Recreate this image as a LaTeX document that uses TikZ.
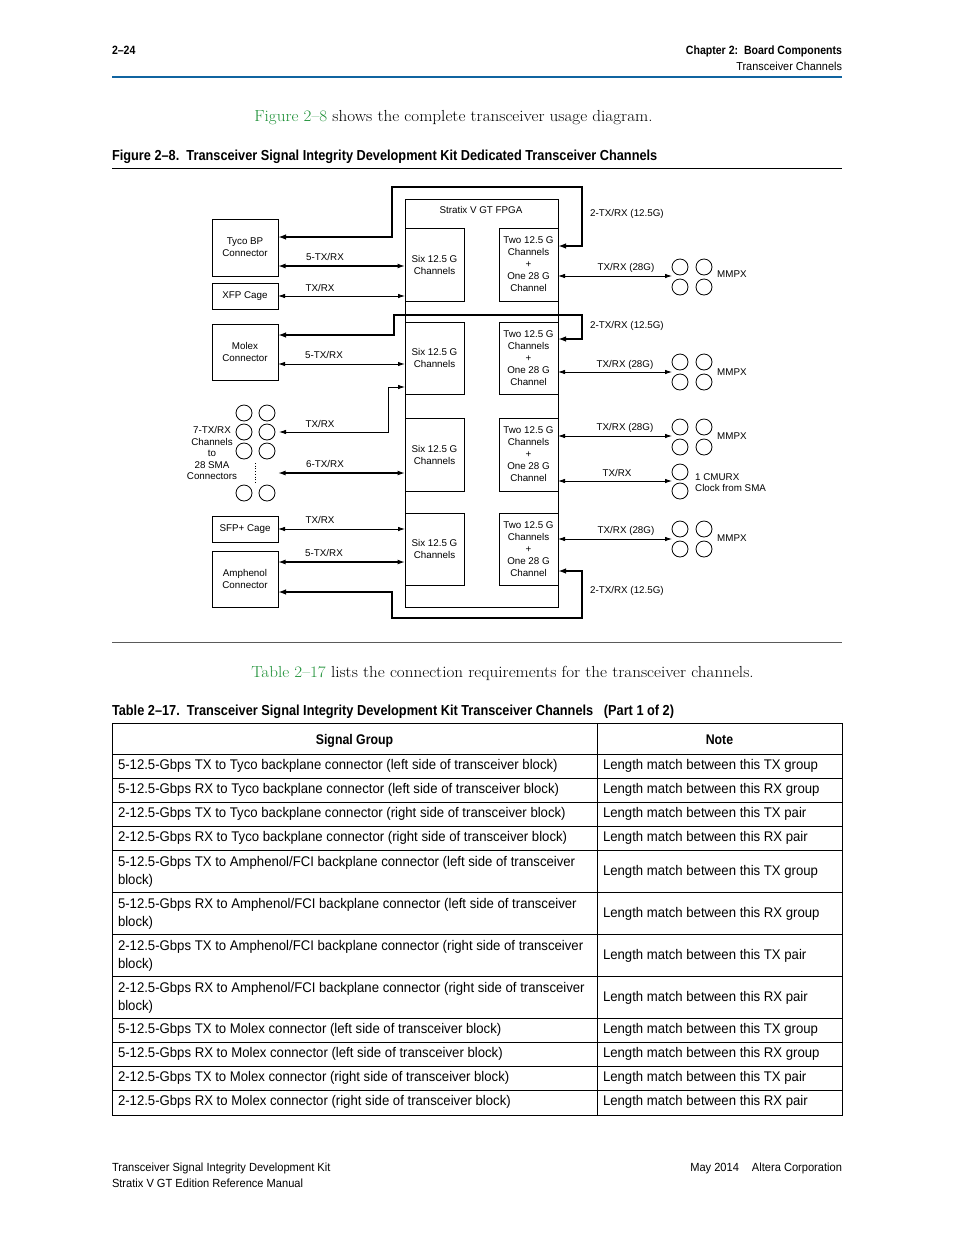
\documentclass[tikz,border=0pt]{standalone}
\usepackage{fontspec}
\usetikzlibrary{arrows.meta}
\newfontfamily\cond[FakeStretch=0.94]{Liberation Sans}
\newfontfamily\condb[FakeStretch=0.88]{Liberation Sans}
\newfontfamily\arial{Liberation Sans}
\newfontfamily\widerm[FakeStretch=1.07]{Latin Modern Roman}
\definecolor{hdrblue}{RGB}{16,100,160}
\definecolor{linkgreen}{RGB}{30,145,55}
\definecolor{rulegray}{RGB}{90,90,90}
\newcommand\hdrb{\condb\bfseries\fontsize{12}{14}\selectfont}
\newcommand\hdrr{\cond\fontsize{11.6}{14}\selectfont}
\newcommand\headb{\condb\bfseries\fontsize{14.5}{17}\selectfont}
\newcommand\tabr{\cond\fontsize{14}{17}\selectfont}
\newcommand\tabb{\condb\bfseries\fontsize{14}{17}\selectfont}
\newcommand\footr{\cond\fontsize{11.8}{14}\selectfont}
\newcommand\serifsz{\widerm\fontsize{16}{19}\selectfont}
\newcommand\diagfont{\arial\fontsize{9.8}{12}\selectfont}
\tikzset{
 box/.style={draw, line width=0.9pt, inner sep=0pt, outer sep=0pt, align=center, font=\diagfont, anchor=north west},
 lbl/.style={inner sep=0pt, font=\diagfont},
 circ/.style={circle, draw, line width=0.8pt, minimum size=16pt, inner sep=0pt, outer sep=0pt},
 thinarr/.style={line width=0.8pt, {Latex[length=7pt,width=4.5pt]}-{Latex[length=7pt,width=4.5pt]}},
 medarr/.style={line width=1.4pt, {Latex[length=7.5pt,width=5pt]}-{Latex[length=7.5pt,width=5pt]}},
 thickarr/.style={line width=2.2pt, line join=miter, {Latex[length=8pt,width=5.5pt]}-{Latex[length=8pt,width=5.5pt]}},
 ptxt/.style={inner sep=0pt, outer sep=0pt},
 tcell/.style={inner sep=0pt, outer sep=0pt, anchor=base west, font=\tabr},
}
\begin{document}
\begin{tikzpicture}[x=1pt,y=-1pt]
\useasboundingbox (0,0) rectangle (954,1235);
\fill[white] (0,0) rectangle (954,1235);

% ---------- page header ----------
\node[ptxt, anchor=base west, font=\hdrb] (pnum) at (112,54.5) {2–24};
\node[ptxt, anchor=base east, font=\hdrb] (chap) at (842,54.5) {Chapter 2:\ \ Board Components};
\node[ptxt, anchor=base east, font=\hdrr] (sect) at (842,70.5) {Transceiver Channels};
\draw[hdrblue, line width=2.2pt] (112,77) -- (842,77);

\node[ptxt, anchor=base, font=\serifsz] (intro) at (453.5,121.5) {\textcolor{linkgreen}{Figure 2–8} shows the complete transceiver usage diagram.};
\node[ptxt, anchor=base west, font=\headb] (figcap) at (112,160) {Figure 2–8.\ \ Transceiver Signal Integrity Development Kit Dedicated Transceiver Channels};
\draw[line width=0.9pt] (112,168) -- (842,168);

% ---------- diagram boxes ----------
\node[box, minimum width=153pt, minimum height=408pt] (fpga) at (405,199) {};
\node[lbl] (fpgat) at (481,210) {Stratix V GT FPGA};

\node[box, minimum width=59pt, minimum height=73pt] (six1) at (405,228) {Six 12.5 G\\Channels};
\node[box, minimum width=59pt, minimum height=73pt] (tw1) at (499,228) {Two 12.5 G\\Channels\\+\\One 28 G\\Channel};
\node[box, minimum width=59pt, minimum height=72pt] (six2) at (405,322) {Six 12.5 G\\Channels};
\node[box, minimum width=59pt, minimum height=72pt] (tw2) at (499,322) {Two 12.5 G\\Channels\\+\\One 28 G\\Channel};
\node[box, minimum width=59pt, minimum height=73pt] (six3) at (405,418) {Six 12.5 G\\Channels};
\node[box, minimum width=59pt, minimum height=73pt] (tw3) at (499,418) {Two 12.5 G\\Channels\\+\\One 28 G\\Channel};
\node[box, minimum width=59pt, minimum height=72pt] (six4) at (405,513) {Six 12.5 G\\Channels};
\node[box, minimum width=59pt, minimum height=72pt] (tw4) at (499,513) {Two 12.5 G\\Channels\\+\\One 28 G\\Channel};

\node[box, minimum width=66pt, minimum height=57pt] (tyco) at (212,219) {Tyco BP\\Connector};
\node[box, minimum width=66pt, minimum height=26pt] (xfp) at (212,283) {XFP Cage};
\node[box, minimum width=66pt, minimum height=56pt] (molex) at (212,324) {Molex\\Connector};
\node[box, minimum width=66pt, minimum height=26pt] (sfp) at (212,516) {SFP+ Cage};
\node[box, minimum width=66pt, minimum height=56pt] (amph) at (212,551) {Amphenol\\Connector};

% SMA circles
\node[circ] (s1a) at (244,413) {};
\node[circ] (s1b) at (267,413) {};
\node[circ] (s2a) at (244,432) {};
\node[circ] (s2b) at (267,432) {};
\node[circ] (s3a) at (244,451) {};
\node[circ] (s3b) at (267,451) {};
\node[circ] (s4a) at (244,493) {};
\node[circ] (s4b) at (267,493) {};
\draw[dotted, line width=0.7pt] (255,463) -- (255,484);
\node[lbl, align=center, font=\arial\fontsize{9.8}{11.5}\selectfont] (smalbl) at (212,453) {7-TX/RX\\Channels\\to\\28 SMA\\Connectors};

% MMPX circles
\node[circ] (m1a) at (680,267) {};
\node[circ] (m1b) at (704,267) {};
\node[circ] (m1c) at (680,287) {};
\node[circ] (m1d) at (704,287) {};
\node[circ] (m2a) at (680,362) {};
\node[circ] (m2b) at (704,362) {};
\node[circ] (m2c) at (680,382) {};
\node[circ] (m2d) at (704,382) {};
\node[circ] (m3a) at (680,427) {};
\node[circ] (m3b) at (704,427) {};
\node[circ] (m3c) at (680,447) {};
\node[circ] (m3d) at (704,447) {};
\node[circ] (c1) at (680,472) {};
\node[circ] (c2) at (680,491) {};
\node[circ] (m4a) at (680,529) {};
\node[circ] (m4b) at (704,529) {};
\node[circ] (m4c) at (680,549) {};
\node[circ] (m4d) at (704,549) {};

\node[lbl, anchor=west] (mm1) at (717,274) {MMPX};
\node[lbl, anchor=west] (mm2) at (717,372) {MMPX};
\node[lbl, anchor=west] (mm3) at (717,436) {MMPX};
\node[lbl, anchor=west] (mm4) at (717,538) {MMPX};
\node[lbl, anchor=west] (cmu1) at (695,477) {1 CMURX};
\node[lbl, anchor=west] (cmu2) at (695,488) {Clock from SMA};

% ---------- connectors ----------
\draw[thickarr] (tw1.east |- 0,246) -| (582,187) -| (392,237) -- (tyco.east |- 0,237);
\draw[thickarr] (tw2.east |- 0,339) -| (582,315) -| (394,335) -- (molex.east |- 0,335);
\draw[thickarr] (tw4.east |- 0,571) -| (582,618) -| (392,592) -- (amph.east |- 0,592);

\draw[medarr] (tyco.east |- 0,266) -- (six1.west |- 0,266);
\draw[thinarr] (xfp.east |- 0,296) -- (six1.west |- 0,296);
\draw[thinarr, line width=1pt] (molex.east |- 0,364) -- (six2.west |- 0,364);
\draw[thinarr] ([xshift=4pt]s2b.east) -| (388,387) -- (fpga.west |- 0,387);
\coordinate (sma6) at (278,473);
\draw[medarr] (sma6) -- (six3.west |- sma6);
\draw[thinarr] (sfp.east |- 0,529) -- (six4.west |- 0,529);
\draw[medarr] (amph.east |- 0,562) -- (six4.west |- 0,562);

\draw[thinarr] (tw1.east |- 0,276) -- (m1a.west |- 0,276);
\draw[thinarr] (tw2.east |- 0,372) -- (m2a.west |- 0,372);
\draw[thinarr] (tw3.east |- 0,436) -- (m3a.west |- 0,436);
\draw[thinarr] (tw3.east |- 0,481) -- (c1.west |- 0,481);
\draw[thinarr] (tw4.east |- 0,539) -- (m4a.west |- 0,539);

% connector labels
\node[lbl] (l1) at (325,257) {5-TX/RX};
\node[lbl] (l2) at (320,288) {TX/RX};
\node[lbl] (l3) at (324,355) {5-TX/RX};
\node[lbl] (l4) at (320,424) {TX/RX};
\node[lbl] (l5) at (325,464) {6-TX/RX};
\node[lbl] (l6) at (320,520) {TX/RX};
\node[lbl] (l7) at (324,553) {5-TX/RX};
\node[lbl, anchor=west] (r1) at (590,214) {2-TX/RX (12.5G)};
\node[lbl] (r2) at (626,268) {TX/RX (28G)};
\node[lbl, anchor=west] (r3) at (590,326) {2-TX/RX (12.5G)};
\node[lbl] (r4) at (625,365) {TX/RX (28G)};
\node[lbl] (r5) at (625,428) {TX/RX (28G)};
\node[lbl] (r6) at (617,473) {TX/RX};
\node[lbl] (r7) at (626,531) {TX/RX (28G)};
\node[lbl, anchor=west] (r8) at (590,591) {2-TX/RX (12.5G)};

% ---------- after figure ----------
\draw[line width=0.7pt, rulegray] (112,642) -- (842,642);
\node[ptxt, anchor=base, font=\serifsz] (tabintro) at (502.5,677) {\textcolor{linkgreen}{Table 2–17} lists the connection requirements for the transceiver channels.};
\node[ptxt, anchor=base west, font=\headb] (tabcap) at (112,715) {Table 2–17.\ \ Transceiver Signal Integrity Development Kit Transceiver Channels\ \ \ (Part 1 of 2)};

% table
\draw[line width=0.8pt] (112,723) rectangle (842,1115);
\draw[line width=0.8pt] (597,723) -- (597,1115);
\foreach \yy in {754,778,802,826,850,892,934,976,1018,1042,1066,1090}
  \draw[line width=0.8pt] (112,\yy) -- (842,\yy);

\node[ptxt, anchor=base, font=\tabb] (thsg) at (354.5,744) {Signal Group};
\node[ptxt, anchor=base, font=\tabb] (thn) at (719.5,744) {Note};

\node[tcell] (a1) at (118,769.5) {5-12.5-Gbps TX to Tyco backplane connector (left side of transceiver block)};
\node[tcell] (b1) at (603,769.5) {Length match between this TX group};
\node[tcell] (a2) at (118,793.5) {5-12.5-Gbps RX to Tyco backplane connector (left side of transceiver block)};
\node[tcell] (b2) at (603,793.5) {Length match between this RX group};
\node[tcell] (a3) at (118,817.5) {2-12.5-Gbps TX to Tyco backplane connector (right side of transceiver block)};
\node[tcell] (b3) at (603,817.5) {Length match between this TX pair};
\node[tcell] (a4) at (118,841.5) {2-12.5-Gbps RX to Tyco backplane connector (right side of transceiver block)};
\node[tcell] (b4) at (603,841.5) {Length match between this RX pair};
\node[tcell] (a5) at (118,866) {5-12.5-Gbps TX to Amphenol/FCI backplane connector (left side of transceiver};
\node[tcell] (a5b) at (118,884) {block)};
\node[tcell] (b5) at (603,875) {Length match between this TX group};
\node[tcell] (a6) at (118,908) {5-12.5-Gbps RX to Amphenol/FCI backplane connector (left side of transceiver};
\node[tcell] (a6b) at (118,926) {block)};
\node[tcell] (b6) at (603,917) {Length match between this RX group};
\node[tcell] (a7) at (118,950) {2-12.5-Gbps TX to Amphenol/FCI backplane connector (right side of transceiver};
\node[tcell] (a7b) at (118,968) {block)};
\node[tcell] (b7) at (603,959) {Length match between this TX pair};
\node[tcell] (a8) at (118,992) {2-12.5-Gbps RX to Amphenol/FCI backplane connector (right side of transceiver};
\node[tcell] (a8b) at (118,1010) {block)};
\node[tcell] (b8) at (603,1001) {Length match between this RX pair};
\node[tcell] (a9) at (118,1033.5) {5-12.5-Gbps TX to Molex connector (left side of transceiver block)};
\node[tcell] (b9) at (603,1033.5) {Length match between this TX group};
\node[tcell] (a10) at (118,1057.5) {5-12.5-Gbps RX to Molex connector (left side of transceiver block)};
\node[tcell] (b10) at (603,1057.5) {Length match between this RX group};
\node[tcell] (a11) at (118,1081.5) {2-12.5-Gbps TX to Molex connector (right side of transceiver block)};
\node[tcell] (b11) at (603,1081.5) {Length match between this TX pair};
\node[tcell] (a12) at (118,1105.5) {2-12.5-Gbps RX to Molex connector (right side of transceiver block)};
\node[tcell] (b12) at (603,1105.5) {Length match between this RX pair};

% footer
\node[ptxt, anchor=base west, font=\footr] (ft1) at (112,1171.5) {Transceiver Signal Integrity Development Kit};
\node[ptxt, anchor=base west, font=\footr] (ft2) at (112,1187.5) {Stratix V GT Edition Reference Manual};
\node[ptxt, anchor=base east, font=\footr] (ft3) at (739,1171.5) {May 2014};
\node[ptxt, anchor=base east, font=\footr] (ft4) at (842,1171.5) {Altera Corporation};
\end{tikzpicture}
\end{document}
